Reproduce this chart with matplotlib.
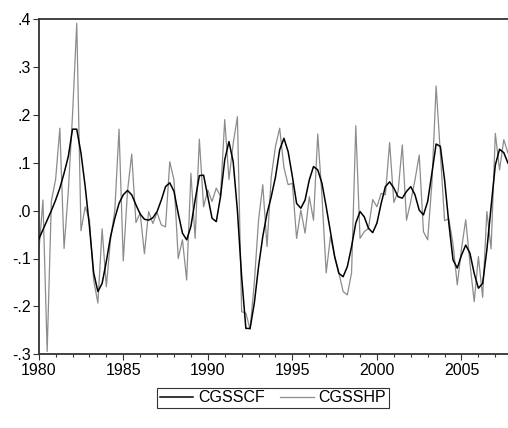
import matplotlib
matplotlib.use("Agg")
import matplotlib.pyplot as plt
from matplotlib.ticker import FixedLocator, MultipleLocator

plt.rcParams['font.family'] = ['Liberation Sans', 'DejaVu Sans']

# quarterly data, 1980Q1 .. 2007Q4
start_year = 1980
cgsscf = [
    -0.06, -0.04, -0.02, 0.0, 0.022, 0.047, 0.078, 0.113, 0.17, 0.17,
    0.12, 0.05, -0.033, -0.13, -0.169, -0.152, -0.106, -0.054, -0.016, 0.015,
    0.033, 0.042, 0.033, 0.012, -0.007, -0.018, -0.02, -0.015, -0.002, 0.022,
    0.05, 0.058, 0.04, -0.006, -0.047, -0.061, -0.033, 0.022, 0.073, 0.074,
    0.029, -0.016, -0.023, 0.029, 0.106, 0.144, 0.102, 0.0, -0.138, -0.246,
    -0.246, -0.193, -0.117, -0.054, -0.006, 0.029, 0.07, 0.127, 0.151, 0.123,
    0.071, 0.015, 0.005, 0.022, 0.064, 0.092, 0.085, 0.057, 0.008, -0.044,
    -0.096, -0.131, -0.138, -0.117, -0.075, -0.026, -0.002, -0.013, -0.037, -0.046,
    -0.026, 0.015, 0.05, 0.06, 0.047, 0.029, 0.026, 0.04, 0.05, 0.033,
    0.001, -0.009, 0.019, 0.078, 0.139, 0.134, 0.064, -0.026, -0.103, -0.12,
    -0.093, -0.072, -0.089, -0.131, -0.162, -0.152, -0.082, 0.008, 0.095, 0.128,
    0.121, 0.099,
]
cgsshp = [
    -0.09, 0.022, -0.294, 0.02, 0.065, 0.172, -0.079, 0.04, 0.2, 0.391,
    -0.042, 0.008, -0.02, -0.145, -0.193, -0.038, -0.159, -0.06, 0.0, 0.17,
    -0.105, 0.04, 0.118, -0.025, -0.005, -0.09, -0.002, -0.027, -0.004, -0.03,
    -0.034, 0.102, 0.064, -0.1, -0.061, -0.145, 0.078, -0.058, 0.149, 0.008,
    0.043, 0.019, 0.047, 0.03, 0.19, 0.065, 0.14, 0.196, -0.211, -0.214,
    -0.248, -0.15, -0.02, 0.054, -0.075, 0.07, 0.134, 0.172, 0.09, 0.054,
    0.057, -0.058, 0.001, -0.047, 0.029, -0.02, 0.16, 0.03, -0.13, -0.054,
    -0.096, -0.13, -0.169, -0.176, -0.13, 0.177, -0.058, -0.044, -0.037, 0.023,
    0.008, 0.036, 0.033, 0.142, 0.017, 0.04, 0.137, -0.02, 0.019, 0.064,
    0.116, -0.044, -0.061, 0.057, 0.26, 0.12, -0.021, -0.017, -0.07, -0.155,
    -0.08, -0.019, -0.11, -0.19, -0.096, -0.181, -0.002, -0.08, 0.161, 0.085,
    0.148, 0.12,
]
xtick_years = [1980, 1985, 1990, 1995, 2000, 2005]
ytick_vals = [-0.3, -0.2, -0.1, 0.0, 0.1, 0.2, 0.3, 0.4]
ytick_labels = ['-.3', '-.2', '-.1', '.0', '.1', '.2', '.3', '.4']

t = [start_year + i / 4 for i in range(len(cgsscf))]

fig = plt.figure(figsize=(5.08, 4.28), dpi=100)
ax = fig.add_axes([38.7 / 508, 73.7 / 428, 469.3 / 508, 335.3 / 428])

ax.plot(t, cgsshp, color='#8c8c8c', lw=0.9, label='CGSSHP', zorder=2)
ax.plot(t, cgsscf, color='black', lw=1.1, label='CGSSCF', zorder=3)

ax.set_xlim(t[0], t[-1])
ax.set_ylim(-0.3, 0.4)

ax.xaxis.set_major_locator(FixedLocator(xtick_years))
ax.xaxis.set_minor_locator(MultipleLocator(1))
ax.set_xticklabels([str(y) for y in xtick_years])
ax.set_yticks(ytick_vals)
ax.set_yticklabels(ytick_labels)

ax.tick_params(axis='both', which='major', direction='out', length=4,
               width=0.8, color='#333333', labelsize=11.5, labelcolor='black')
ax.tick_params(axis='x', which='major', pad=2)
ax.tick_params(axis='y', which='major', pad=1.5)
ax.tick_params(axis='x', which='minor', direction='out', length=2.5,
               width=0.8, color='#333333')

for side in ['left', 'bottom', 'top']:
    ax.spines[side].set_color('#333333')
    ax.spines[side].set_linewidth(1.3)
ax.spines['right'].set_visible(False)

h, l = ax.get_legend_handles_labels()
leg = fig.legend([h[1], h[0]], [l[1], l[0]], loc='center',
                 bbox_to_anchor=(273 / 508, 1 - 398 / 428), ncol=2,
                 fontsize=11.5, frameon=True, fancybox=False, edgecolor='black',
                 handlelength=2.1, handletextpad=0.3, columnspacing=0.95,
                 borderpad=0.15)
leg.get_frame().set_linewidth(0.8)

fig.savefig('out.png', dpi=100)
